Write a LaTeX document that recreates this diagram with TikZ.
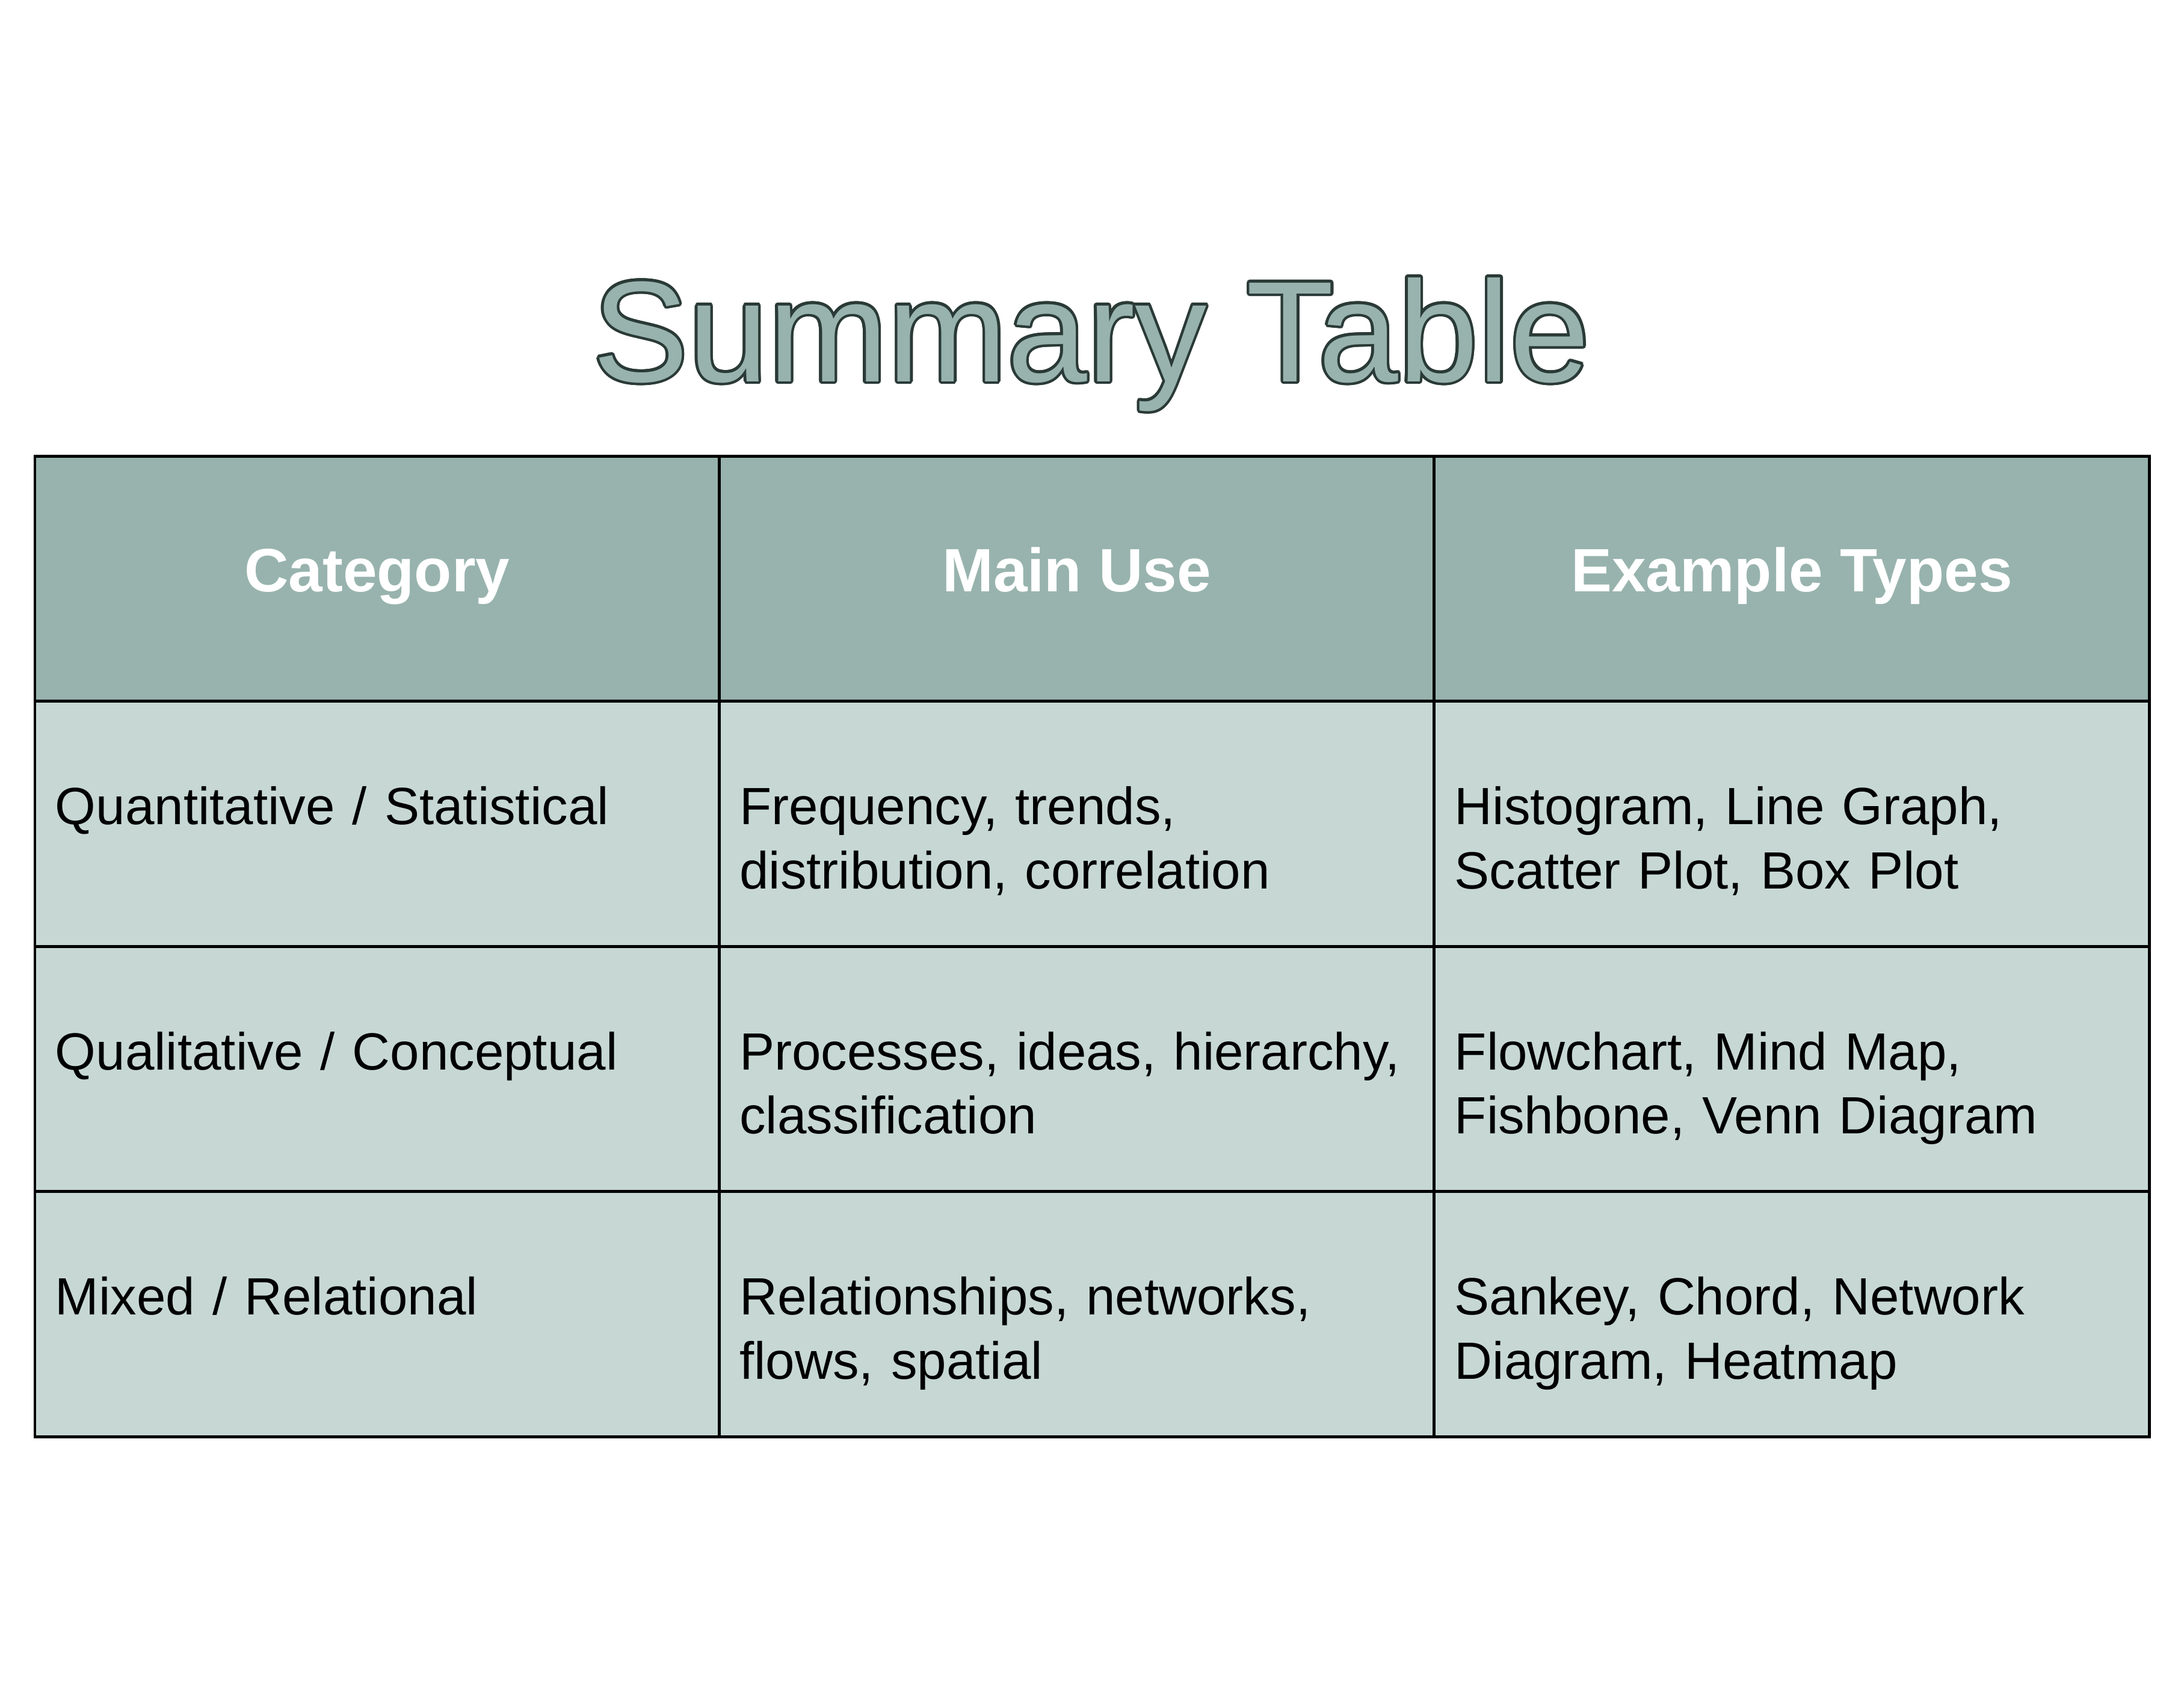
\documentclass[tikz,border=0pt]{standalone}
\usepackage{fontspec}
\setmainfont{Liberation Sans}
\usepackage{contour}
\usetikzlibrary{positioning, calc}

\definecolor{headsage}{HTML}{98B3AD}
\definecolor{bodysage}{HTML}{C7D8D4}
\definecolor{titleline}{HTML}{2A3A36}
\contourlength{0.55pt}

\begin{document}
\begin{tikzpicture}[
    headcell/.style={draw=black, line width=0.6pt, fill=headsage, text=white, anchor=north west,
        font=\fontsize{12.5}{15}\selectfont\bfseries, minimum height=1.755cm, inner sep=0pt,
        text height=0.35cm, text depth=0.162cm},
    bodycell/.style={draw=black, line width=0.6pt, fill=bodysage, anchor=north west,
        minimum height=1.76cm, inner sep=0pt},
    celltext/.style={anchor=base west, inner sep=0pt, align=left, text width=5.3cm,
        font=\fontsize{10.7}{13.1}\selectfont}
]
    \useasboundingbox (0,0) rectangle (15.67,12.11);

    % Title
    \node[text=headsage, font=\fontsize{29.3}{35}\selectfont, anchor=base] (title) at (7.83,9.373) {\contour{titleline}{Summary Table}};

    % Header row
    \node[headcell, minimum width=4.91cm] (hcat) at (0.24,8.845) {Category};
    \node[headcell, minimum width=5.13cm] (huse) at (5.15,8.845) {Main Use};
    \node[headcell, minimum width=5.13cm] (htype) at (10.28,8.845) {Example Types};

    % Row 1
    \node[bodycell, minimum width=4.91cm] (c11) at (0.24,7.09) {};
    \node[bodycell, minimum width=5.13cm] (c12) at (5.15,7.09) {};
    \node[bodycell, minimum width=5.13cm] (c13) at (10.28,7.09) {};
    \node[celltext] (t11) at ($(c11.north west)+(0.15,-0.896)$) {Quantitative / Statistical};
    \node[celltext] (t12) at ($(c12.north west)+(0.15,-0.896)$) {Frequency, trends,\\distribution, correlation};
    \node[celltext] (t13) at ($(c13.north west)+(0.15,-0.896)$) {Histogram, Line Graph,\\Scatter Plot, Box Plot};

    % Row 2
    \node[bodycell, minimum width=4.91cm] (c21) at (0.24,5.33) {};
    \node[bodycell, minimum width=5.13cm] (c22) at (5.15,5.33) {};
    \node[bodycell, minimum width=5.13cm] (c23) at (10.28,5.33) {};
    \node[celltext] (t21) at ($(c21.north west)+(0.15,-0.896)$) {Qualitative / Conceptual};
    \node[celltext] (t22) at ($(c22.north west)+(0.15,-0.896)$) {Processes, ideas, hierarchy,\\classification};
    \node[celltext] (t23) at ($(c23.north west)+(0.15,-0.896)$) {Flowchart, Mind Map,\\Fishbone, Venn Diagram};

    % Row 3
    \node[bodycell, minimum width=4.91cm] (c31) at (0.24,3.57) {};
    \node[bodycell, minimum width=5.13cm] (c32) at (5.15,3.57) {};
    \node[bodycell, minimum width=5.13cm] (c33) at (10.28,3.57) {};
    \node[celltext] (t31) at ($(c31.north west)+(0.15,-0.896)$) {Mixed / Relational};
    \node[celltext] (t32) at ($(c32.north west)+(0.15,-0.896)$) {Relationships, networks,\\flows, spatial};
    \node[celltext] (t33) at ($(c33.north west)+(0.15,-0.896)$) {Sankey, Chord, Network\\Diagram, Heatmap};
\end{tikzpicture}
\end{document}
